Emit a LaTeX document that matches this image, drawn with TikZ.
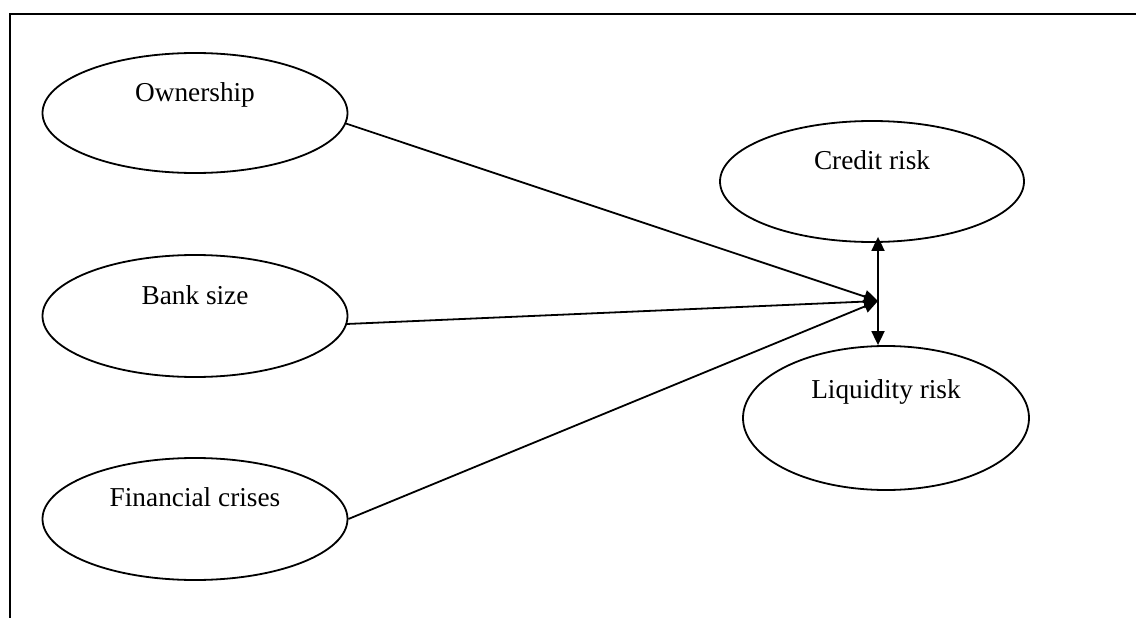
\documentclass[tikz,border=0pt]{standalone}
\usepackage{fontspec}
\setmainfont{Liberation Serif}
\usetikzlibrary{shapes.geometric,arrows.meta}
\begin{document}
\begin{tikzpicture}[x=1pt,y=-1pt,
  oval/.style={draw,ellipse,line width=1.8pt,inner sep=0pt},
  lbl/.style={anchor=base,inner sep=0pt,font=\fontsize{27.3}{32}\selectfont},
  conn/.style={line width=1.8pt,-{Triangle[length=14pt,width=13pt]}},
  biconn/.style={line width=1.8pt,{Triangle[length=14pt,width=13pt]}-{Triangle[length=14pt,width=13pt]}},
  frame/.style={line width=2pt}]
\useasboundingbox (0,0) rectangle (1136,618);
% frame
\coordinate (ftr) at (1136,14.5);
\coordinate (ftl) at (10,14.5);
\coordinate (fbl) at (10,618);
\draw[frame] (ftr) -- (ftl) -- (fbl);
% ellipses
\node[oval,minimum width=305pt,minimum height=120pt] (own) at (195,113) {};
\node[oval,minimum width=305pt,minimum height=122pt] (bank) at (195,316) {};
\node[oval,minimum width=305pt,minimum height=122pt] (fin) at (195,519) {};
\node[oval,minimum width=304pt,minimum height=121pt] (cred) at (872,181.5) {};
\node[oval,minimum width=286pt,minimum height=144pt] (liq) at (886,418) {};
% labels
\node[lbl] (ownt) at (195,102) {Ownership};
\node[lbl] (bankt) at (195,304) {Bank size};
\node[lbl] (fint) at (195,506) {Financial crises};
\node[lbl] (credt) at (872,169) {Credit risk};
\node[lbl] (liqt) at (886,398) {Liquidity risk};
% junction
\coordinate (J) at (878,301);
\draw[conn] (own.-4) -- (J);
\draw[conn] (bank.-3) -- (J);
\draw[conn] (fin.east) -- (J);
\draw[biconn,shorten <=-6pt] (cred.south -| J) -- (liq.north -| J);
\end{tikzpicture}
\end{document}
